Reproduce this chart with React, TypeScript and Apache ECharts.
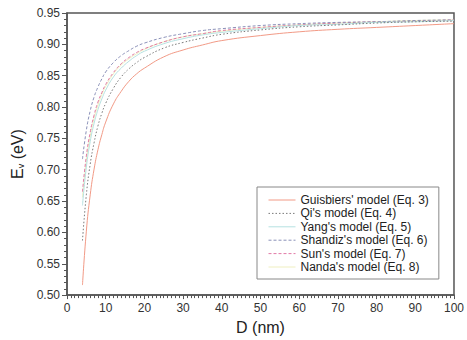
import React, { useEffect, useRef } from "react";
import * as echarts from "echarts";

const D = [4, 5, 6, 7, 8, 9, 10, 12, 14, 16, 18, 20, 25, 30, 35, 40, 50, 60, 70, 80, 90, 100];

const guisbiers = [0.516, 0.602, 0.66, 0.701, 0.732, 0.756, 0.776, 0.805, 0.825, 0.841, 0.853, 0.862, 0.88, 0.891, 0.899, 0.906, 0.914, 0.92, 0.924, 0.927, 0.93, 0.933];
const qi = [0.587, 0.66, 0.709, 0.743, 0.77, 0.79, 0.806, 0.83, 0.848, 0.861, 0.871, 0.879, 0.894, 0.903, 0.91, 0.916, 0.923, 0.928, 0.931, 0.934, 0.936, 0.937];
const yang = [0.643, 0.704, 0.745, 0.774, 0.796, 0.813, 0.827, 0.848, 0.862, 0.873, 0.882, 0.889, 0.901, 0.909, 0.915, 0.919, 0.925, 0.93, 0.932, 0.935, 0.936, 0.938];
const shandiz = [0.717, 0.763, 0.794, 0.816, 0.832, 0.845, 0.856, 0.871, 0.882, 0.89, 0.897, 0.902, 0.911, 0.917, 0.922, 0.925, 0.93, 0.933, 0.935, 0.936, 0.938, 0.939];
const sun = [0.665, 0.722, 0.76, 0.787, 0.808, 0.823, 0.836, 0.855, 0.869, 0.879, 0.887, 0.893, 0.904, 0.912, 0.917, 0.922, 0.927, 0.931, 0.934, 0.936, 0.937, 0.939];
const nanda = [0.656, 0.715, 0.754, 0.782, 0.803, 0.82, 0.833, 0.853, 0.867, 0.877, 0.885, 0.892, 0.904, 0.912, 0.917, 0.921, 0.927, 0.931, 0.934, 0.936, 0.938, 0.939];

const seriesNames = [
  "Guisbiers' model (Eq. 3)",
  "Qi's model (Eq. 4)",
  "Yang's model (Eq. 5)",
  "Shandiz's model (Eq. 6)",
  "Sun's model (Eq. 7)",
  "Nanda's model (Eq. 8)",
];
const seriesData = [guisbiers, qi, yang, shandiz, sun, nanda];
const seriesColors = ["#f29a86", "#7a7a7a", "#b6e2e2", "#8a90b8", "#e27aa6", "#efefc0"];
const seriesTypes = ["solid", [1.5, 2], "solid", [3, 2], [3, 2], "solid"];

export default function App() {
  const ref = useRef<HTMLDivElement>(null);
  useEffect(() => {
    document.body.style.margin = "0";
    document.body.style.overflow = "hidden";
    const chart = echarts.init(ref.current!, null, { renderer: "svg" });
    const font = "Liberation Sans, Arial, sans-serif";
    chart.setOption({
      animation: false,
      backgroundColor: "#fff",
      textStyle: { fontFamily: font },
      grid: {
        left: 67,
        right: 12,
        top: 13,
        bottom: 43,
        show: true,
        borderColor: "#555",
        borderWidth: 1.5,
        backgroundColor: "#fff",
      },
      legend: {
        orient: "vertical",
        left: 257,
        top: 187,
        padding: [7, 10, 6, 11],
        itemWidth: 27,
        itemHeight: 14,
        itemGap: 1.4,
        itemStyle: { opacity: 0 },
        lineStyle: { width: 1 },
        borderColor: "#888",
        borderWidth: 1,
        backgroundColor: "#fff",
        textStyle: { fontSize: 12, color: "#222", fontFamily: font },
        data: seriesNames,
      },
      xAxis: {
        type: "value",
        min: 0,
        max: 100,
        interval: 10,
        name: "D (nm)",
        nameLocation: "middle",
        nameGap: 15,
        nameTextStyle: { fontSize: 16, color: "#222", fontFamily: font },
        axisLine: { lineStyle: { color: "#555", width: 1.5 } },
        axisTick: { show: true, length: 4, lineStyle: { color: "#555" } },
        minorTick: { show: true, splitNumber: 10, length: 3, lineStyle: { color: "#555" } },
        splitLine: { show: false },
        axisLabel: { fontSize: 12, color: "#333", margin: 7, fontFamily: font },
      },
      yAxis: {
        type: "value",
        min: 0.5,
        max: 0.95,
        interval: 0.05,
        name: "{a|E}{b|v}{a| (eV)}",
        nameLocation: "middle",
        nameGap: 32,
        nameRotate: 90,
        nameTextStyle: {
          fontSize: 16,
          color: "#222",
          fontFamily: font,
          rich: {
            a: { fontSize: 16, color: "#222", fontFamily: font },
            b: { fontSize: 9, color: "#222", fontFamily: font, padding: [8, 0, 0, 0] },
          },
        },
        axisLine: { lineStyle: { color: "#555", width: 1.5 } },
        axisTick: { show: true, length: 5, lineStyle: { color: "#555" } },
        minorTick: { show: true, splitNumber: 5, length: 3, lineStyle: { color: "#555" } },
        splitLine: { show: false },
        axisLabel: {
          fontSize: 12,
          color: "#333",
          margin: 7,
          fontFamily: font,
          formatter: (v: number) => v.toFixed(2),
        },
      },
      series: seriesNames.map((name, i) => ({
        name,
        type: "line",
        smooth: true,
        symbol: "none",
        data: D.map((d, j) => [d, seriesData[i][j]]),
        lineStyle: { color: seriesColors[i], width: 1, type: seriesTypes[i] },
        itemStyle: { color: seriesColors[i] },
        z: 10 - i,
      })),
    });
    return () => chart.dispose();
  }, []);
  return <div ref={ref} style={{ width: 467, height: 340 }} />;
}
